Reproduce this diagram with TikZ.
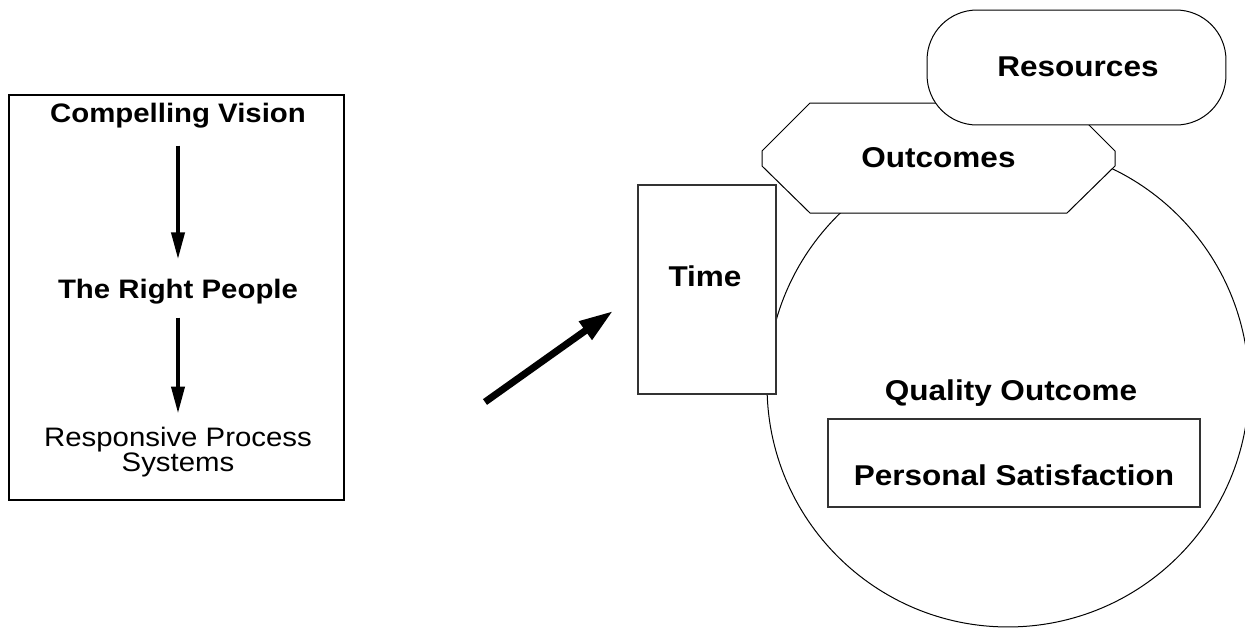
\documentclass[tikz,border=0pt]{standalone}
\usepackage{fontspec}
\setmainfont[FakeStretch=1.1]{Liberation Sans}
\usepackage{tikz}
\usetikzlibrary{arrows.meta}
\usetikzlibrary{positioning}

\begin{document}
\begin{tikzpicture}[x=0.02cm, y=-0.02cm,
    frame/.style={rectangle, draw=black, line width=0.04cm, inner sep=0},
    box/.style={rectangle, draw=black!80, line width=0.03cm, fill=white, inner sep=0},
    txt/.style={inner sep=0, font=\fontsize{15.2}{14.2}\selectfont},
    bold/.style={inner sep=0, font=\fontsize{16.3}{18}\selectfont\bfseries},
    down/.style={-{Triangle[length=0.54cm, width=0.26cm]}, line width=0.08cm},
    push/.style={-{Triangle[length=0.68cm, width=0.42cm]}, line width=0.14cm}]
    \useasboundingbox (0,0) rectangle (1245,633);

    % left column
    \node [frame, minimum width=6.7cm, minimum height=8.1cm] (chain) at (176.5,297.5) {};
    \node [txt, anchor=base, font=\fontsize{15.2}{14.2}\selectfont\bfseries] (vision) at (178,122) {Compelling Vision};
    \node [txt, anchor=base, font=\fontsize{15.2}{14.2}\selectfont\bfseries] (people) at (178,298) {The Right People};
    \node [txt, anchor=north, align=center] (process) at (178,427) {Responsive Process\\Systems};

    \draw [down, shorten <=0.35cm, shorten >=0.38cm] (vision) -- (people);
    \draw [down, shorten <=0.27cm, shorten >=0.27cm] (people) -- (process);

    % arrow across
    \coordinate (tail) at (485,402);
    \coordinate (head) at (613,311);
    \draw [push] (tail) -- (head);

    % right cluster
    \node [circle, draw=black, line width=0.02cm, minimum size=9.64cm, inner sep=0] (quality) at (1008,386) {};
    \node [box, minimum width=2.76cm, minimum height=4.18cm] (time) at (707,289.5) {};
    \filldraw [fill=white, draw=black, line width=0.02cm] (810,103) -- (1067,103) -- (1115,151) -- (1115,166)
        -- (1067,213) -- (810,213) -- (762,166) -- (762,151) -- cycle;
    \node [box, draw=black, line width=0.02cm, rounded corners=1cm, minimum width=5.98cm, minimum height=2.3cm] (resources) at (1076.5,67.5) {};
    \node [box, minimum width=7.44cm, minimum height=1.76cm] (personal) at (1014,463) {};

    \node [bold, anchor=base] (timelbl) at (705,286) {Time};
    \node [bold, anchor=base] (outcomes) at (938.5,167) {Outcomes};
    \node [bold, anchor=base] (reslbl) at (1078,76) {Resources};
    \node [bold, anchor=base] (qualitylbl) at (1011,400) {Quality Outcome};
    \node [bold, anchor=base] (satisfaction) at (1014,485) {Personal Satisfaction};
\end{tikzpicture}
\end{document}
